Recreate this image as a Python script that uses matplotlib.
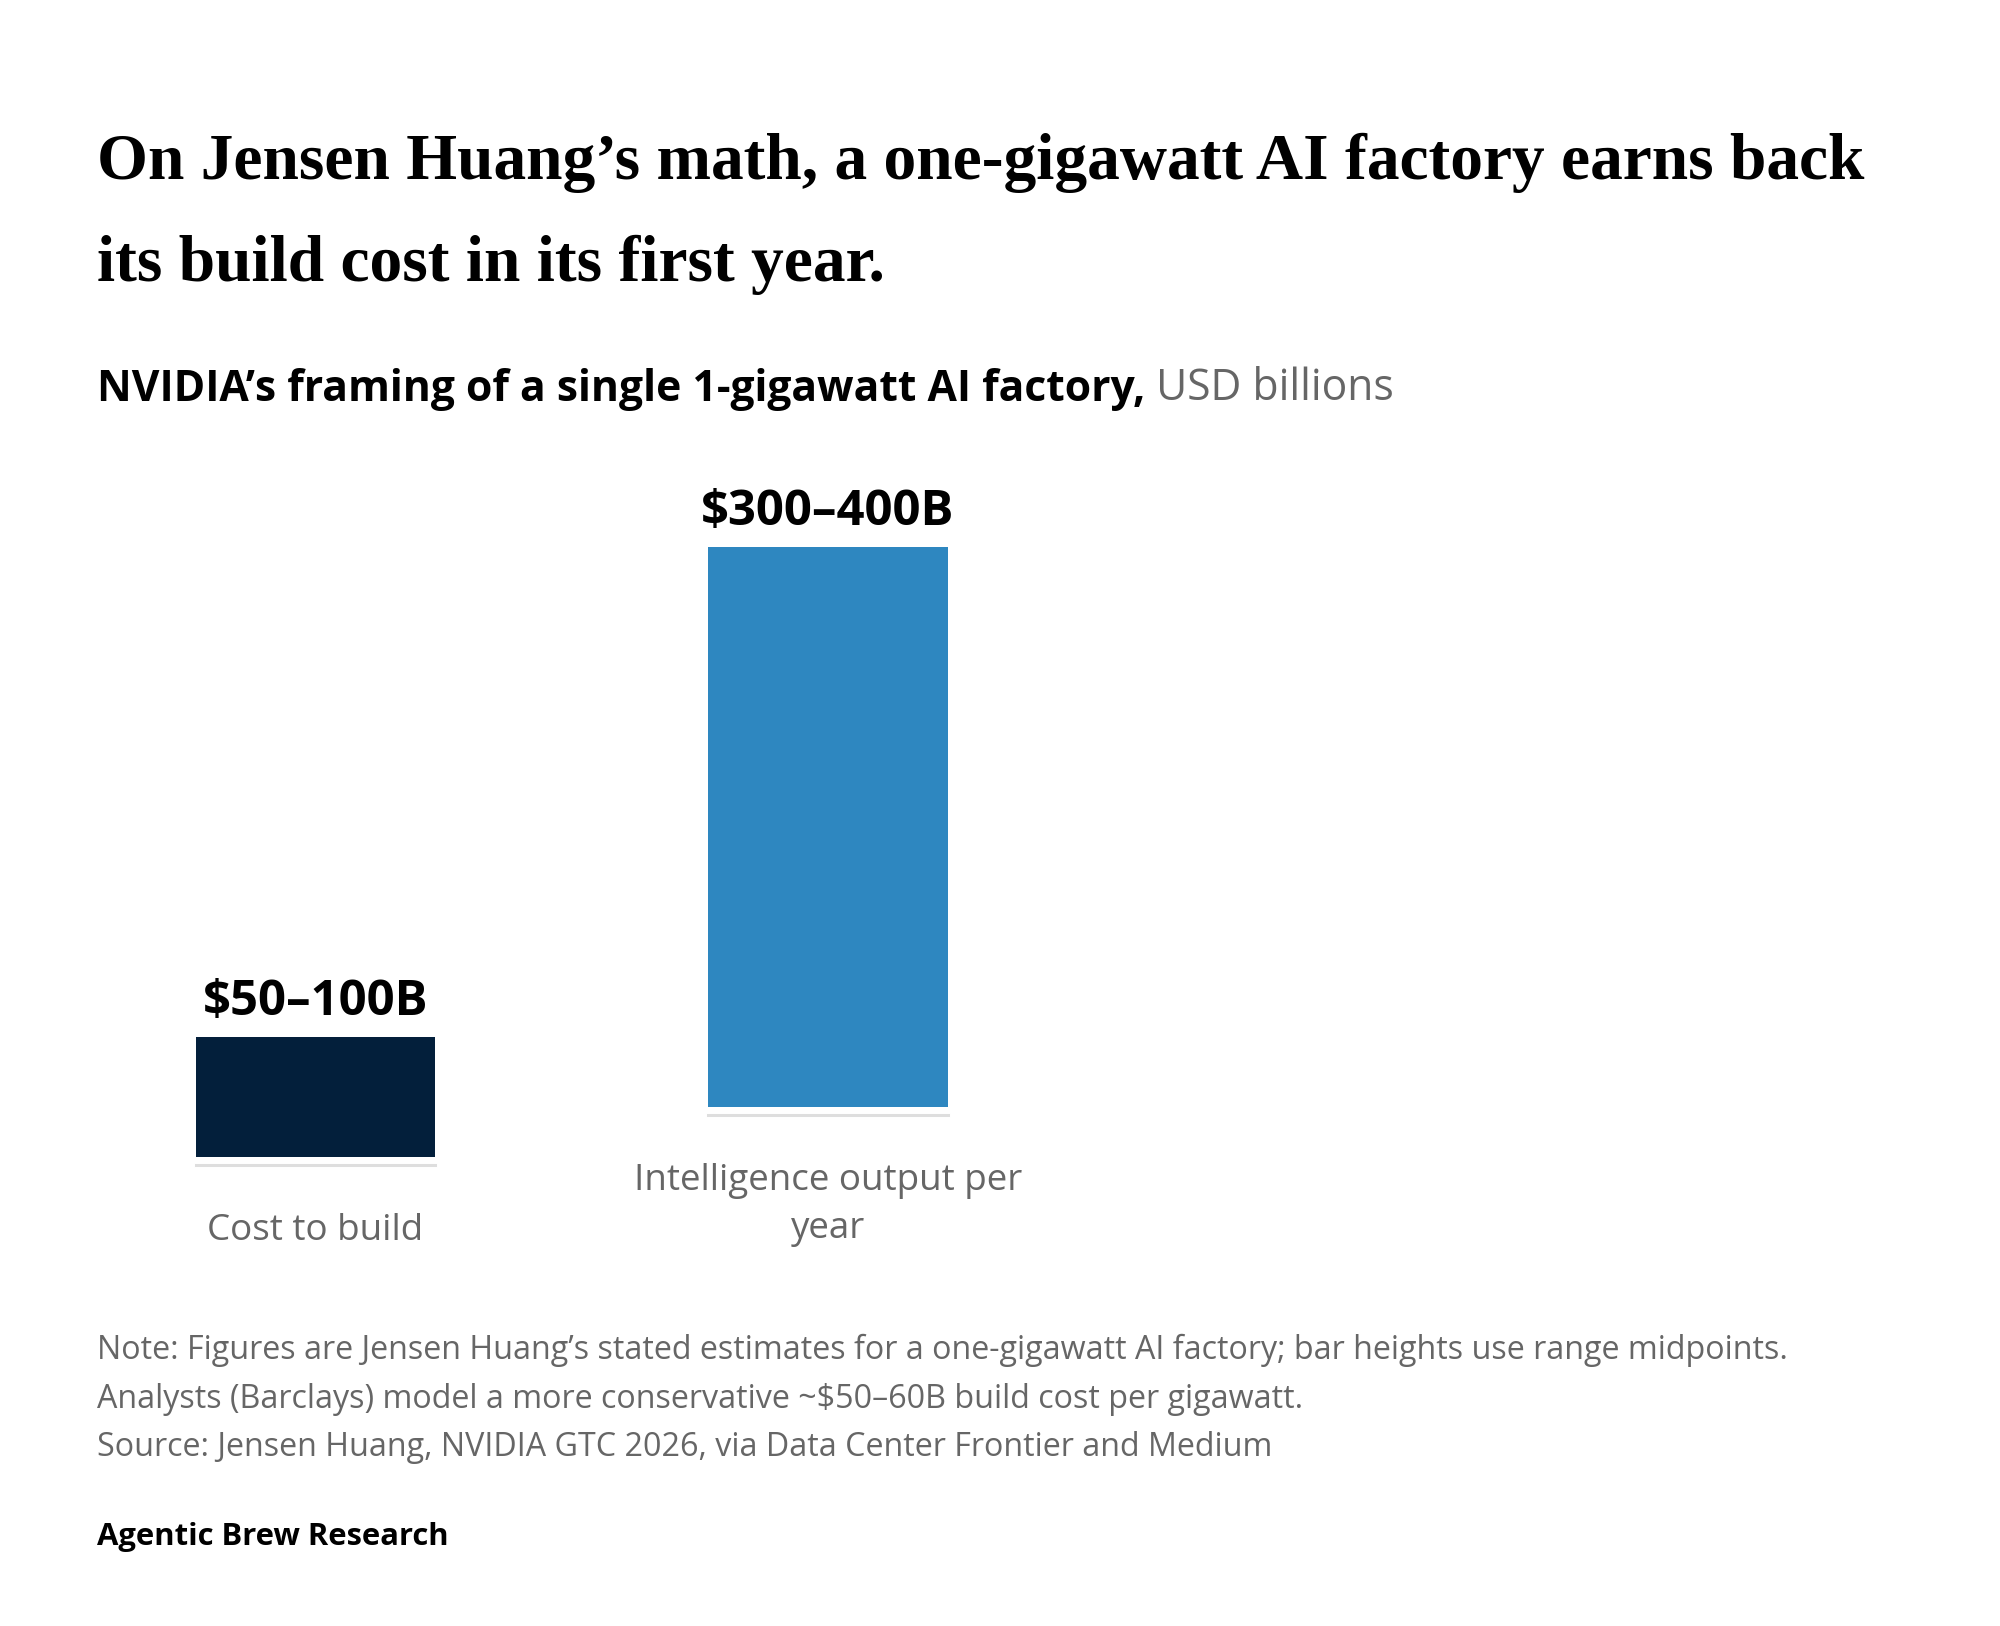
import matplotlib
matplotlib.use("Agg")
import matplotlib.pyplot as plt
from matplotlib.text import Annotation

# data (USD billions, Jensen Huang's stated ranges)
categories = ["Cost to build", "Intelligence output per\nyear"]
range_low = [50, 300]
range_high = [100, 400]
value_labels = ["$50\u2013100B", "$300\u2013400B"]
bar_colors = ["#031f3b", "#2e87c0"]

midpoints = [(lo + hi) / 2 for lo, hi in zip(range_low, range_high)]

W, H = 2000, 1626
fig = plt.figure(figsize=(W / 100, H / 100), dpi=100)
fig.patch.set_facecolor("white")
renderer = fig.canvas.get_renderer()

sans = ["Open Sans", "DejaVu Sans"]
serif = ["Liberation Serif", "DejaVu Serif"]


def px(x, y):
    # pixel (from top-left) -> figure fraction
    return x / W, 1 - y / H


def fit(t, target_w):
    # scale the font so the text is as wide as in the reference
    w = t.get_window_extent(renderer).width
    t.set_fontsize(t.get_fontsize() * target_w / w)
    return t.get_fontsize()


# title
title_lines = ["On Jensen Huang\u2019s math, a one-gigawatt AI factory earns back",
               "its build cost in its first year."]
tx, ty = px(97, 179)
t = fig.text(tx, ty, title_lines[0], family=serif, weight="bold", fontsize=40,
             va="baseline", ha="left", color="black")
title_size = fit(t, 1763)
tx, ty = px(97, 281)
fig.text(tx, ty, title_lines[1], family=serif, weight="bold", fontsize=title_size,
         va="baseline", ha="left", color="black")

# subtitle
sx, sy = px(97, 401)
t1 = fig.text(sx, sy, "NVIDIA\u2019s framing of a single 1-gigawatt AI factory,", family=sans,
              weight="bold", fontsize=24, color="black", va="baseline", ha="left")
t2 = Annotation(" USD billions", xy=(1, 0), xycoords=t1, va="bottom", ha="left",
                family=sans, fontsize=24, color="#666666", annotation_clip=False)
fig.add_artist(t2)
w_all = (t1.get_window_extent(renderer).width + t2.get_window_extent(renderer).width)
sub_size = 24 * 1300 / w_all
t1.set_fontsize(sub_size)
t2.set_fontsize(sub_size)

# font sizes fitted on one text of each style
probe = fig.text(0, 0, "$300\u2013400B", family=sans, weight="bold", fontsize=30, parse_math=False)
value_size = fit(probe, 253)
probe.remove()
probe = fig.text(0, 0, "Intelligence output per", family=sans, fontsize=24)
cat_size = fit(probe, 390)
probe.remove()
probe = fig.text(0, 0, "Note: Figures are Jensen Huang\u2019s stated estimates for a one-gigawatt AI factory; bar heights use range midpoints.",
                 family=sans, fontsize=18)
note_size = fit(probe, 1689)
probe.remove()
probe = fig.text(0, 0, "Agentic Brew Research", family=sans, weight="bold", fontsize=18)
brand_size = fit(probe, 353)
probe.remove()

# bars: each column gets its own axes, bottom-aligned to its label
ymax = 380
px_per_unit = 1.6
bar_px = [(196, 435, 1157), (708, 948, 1107)]
for i, (x0, x1, base) in enumerate(bar_px):
    left, bottom = px(x0, base)
    ax = fig.add_axes([left, bottom, (x1 - x0) / W, ymax * px_per_unit / H])
    ax.bar([0], [midpoints[i]], width=1.0, color=bar_colors[i])
    ax.set_xlim(-0.5, 0.5)
    ax.set_ylim(0, ymax)
    ax.set_facecolor("none")
    for s in ["top", "left", "right"]:
        ax.spines[s].set_visible(False)
    ax.spines["bottom"].set_position(("outward", 6))
    ax.spines["bottom"].set_color("#dedede")
    ax.spines["bottom"].set_linewidth(2.2)
    ax.set_yticks([])
    ax.set_xticks([0])
    ax.set_xticklabels([categories[i]], family=sans, fontsize=cat_size, color="#666666",
                       linespacing=1.45)
    ax.tick_params(axis="x", length=0, pad=34)
    ax.annotate(value_labels[i], xy=(0, midpoints[i]), xytext=(0, 16), textcoords="offset points",
                ha="center", va="baseline", family=sans, weight="bold", fontsize=value_size,
                color="black", parse_math=False)

# notes
notes = [
    "Note: Figures are Jensen Huang\u2019s stated estimates for a one-gigawatt AI factory; bar heights use range midpoints.",
    "Analysts (Barclays) model a more conservative ~$50\u201360B build cost per gigawatt.",
    "Source: Jensen Huang, NVIDIA GTC 2026, via Data Center Frontier and Medium",
]
for k, line in enumerate(notes):
    nx, ny = px(97, 1359 + k * 48.5)
    fig.text(nx, ny, line, family=sans, fontsize=note_size, color="#666666", va="baseline",
             ha="left", parse_math=False)

bx, by = px(97, 1545)
fig.text(bx, by, "Agentic Brew Research", family=sans, weight="bold", fontsize=brand_size,
         color="black", va="baseline", ha="left")

fig.savefig("out.png", dpi=100, facecolor="white")
